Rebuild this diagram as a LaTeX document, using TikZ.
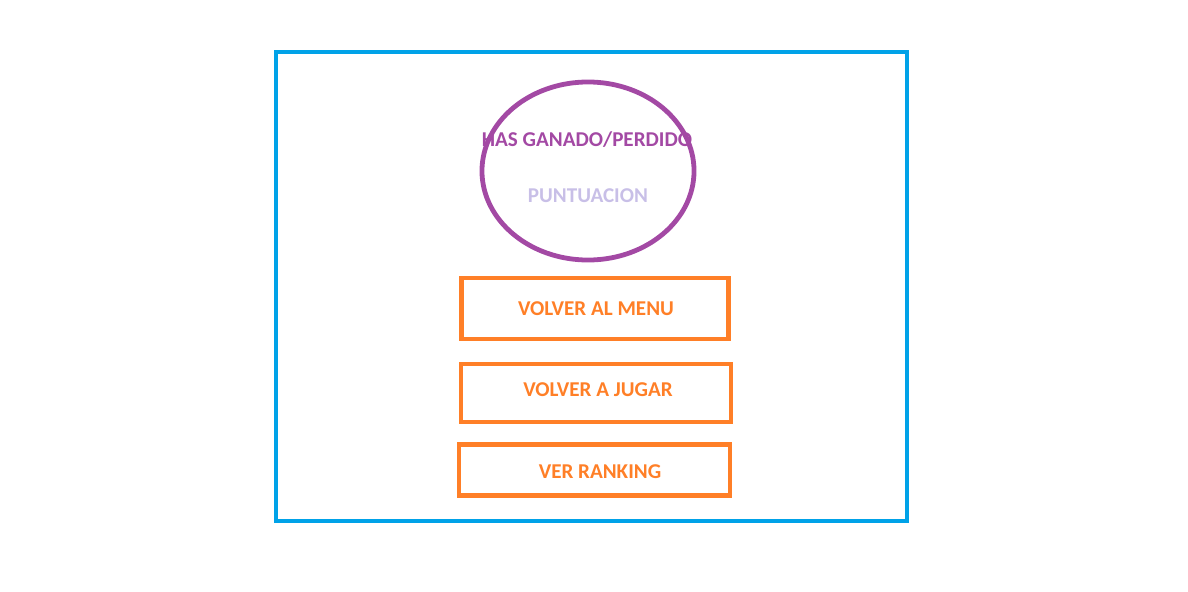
\documentclass[tikz,border=0pt]{standalone}
\usepackage{xcolor}
\usepackage{fontspec}
\setmainfont{Carlito}
\usetikzlibrary{shapes.geometric, positioning}

\definecolor{paintblue}{RGB}{0,162,232}
\definecolor{paintpurple}{RGB}{163,73,164}
\definecolor{paintorange}{RGB}{255,127,39}
\definecolor{paintlavender}{RGB}{200,191,231}

\begin{document}
\begin{tikzpicture}[x=0.025cm,y=-0.025cm,line width=0.12cm,
                    button/.style={rectangle,draw=paintorange,text=paintorange,inner sep=0pt,
                                   font=\fontsize{15}{17}\selectfont\bfseries},
                    label text/.style={inner sep=0pt,font=\fontsize{15}{17}\selectfont\bfseries}]

 \useasboundingbox (0,0) rectangle (1188,591);

 \node[draw=paintblue,rectangle,minimum width=15.775cm,minimum height=11.725cm] (frame) at (591.5,286.5) {};

 \node[draw=paintpurple,ellipse,inner sep=0pt,minimum width=5.3cm,minimum height=4.45cm] (result) at (588,171) {};

 \node[label text,text=paintpurple] (outcome) at (587,140) {HAS GANADO/PERDIDO};

 \node[label text,text=paintlavender] (score) at (588,196) {PUNTUACION};

 \node[button,minimum width=6.675cm,minimum height=1.525cm] (menu) at (595,308.5) {};
 \node (menutext) at (596,309) [label text,text=paintorange] {VOLVER AL MENU};

 \node[button,minimum width=6.75cm,minimum height=1.45cm] (again) at (596,393) {};
 \node (againtext) at (598,390) [label text,text=paintorange] {VOLVER A JUGAR};

 \node[button,minimum width=6.775cm,minimum height=1.275cm] (ranking) at (594.5,470) {};
 \node (rankingtext) at (600,472) [label text,text=paintorange] {VER RANKING};

\end{tikzpicture}
\end{document}
